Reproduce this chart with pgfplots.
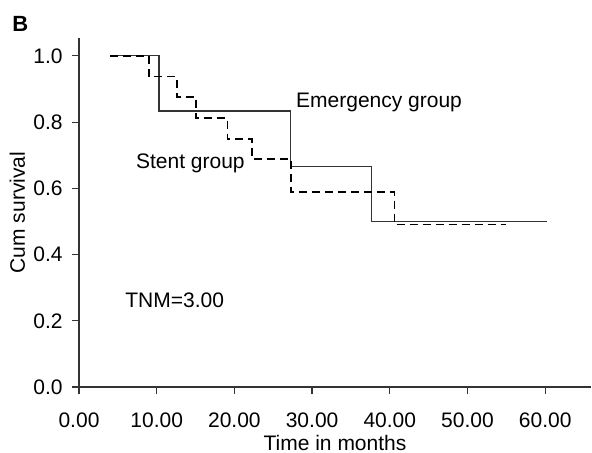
\documentclass[border=0pt]{standalone}
\usepackage{fontspec}
\setmainfont{Liberation Sans}
\usepackage{pgfplots}
\pgfplotsset{compat=1.18}
\begin{document}
\fontsize{10.5}{12.6}\selectfont
\begin{tikzpicture}
\path (0,0) rectangle (296pt,226pt);
\node[anchor=base west, inner sep=0, font=\fontsize{11}{13}\selectfont\bfseries] at (6pt,210.5pt) {B};
\begin{axis}[
  at={(39.5pt,32.5pt)}, anchor=south west,
  scale only axis, width=256pt, height=174.5pt,
  xmin=0, xmax=65.9, ymin=0, ymax=1.054,
  axis x line=bottom, axis y line=left,
  axis line style={-, line width=0.6pt, black!80},
  tick align=outside, major tick length=3.5pt,
  tick style={line width=0.6pt, black!80},
  xtick={0,10,20,30,40,50,60},
  ytick={0,0.2,0.4,0.6,0.8,1.0},
  xticklabels={0.00,10.00,20.00,30.00,40.00,50.00,60.00},
  yticklabels={0.0,0.2,0.4,0.6,0.8,1.0},
  xticklabel style={anchor=base, yshift=-16.8pt, inner sep=0},
  yticklabel style={anchor=east, xshift=-4.5pt, inner sep=0},
  xlabel={Time in months},
  ylabel={Cum survival},
  xlabel style={at={(axis description cs:0.5,0)}, anchor=base, yshift=-31.5pt, inner sep=0},
  ylabel style={at={(axis description cs:-0.1055,0.5)}, anchor=base, rotate=0, inner sep=0},
  clip=false,
]
\addplot[const plot, line width=0.6pt, black!80] coordinates {
  (4,1) (10.3,0.8333) (27.2,0.6667) (37.6,0.5) (60.2,0.5)
};
\addplot[const plot, line width=0.9pt, black, dash pattern=on 4pt off 2.5pt] coordinates {
  (4,1) (9.0,0.9375) (12.6,0.875) (15.1,0.8125) (19.1,0.75) (22.3,0.6875) (27.3,0.589) (40.6,0.491) (55.0,0.491)
};
\node[anchor=base west, inner sep=0] at (axis cs:27.9,0.844) {Emergency group};
\node[anchor=base west, inner sep=0] at (axis cs:7.3,0.659) {Stent group};
\node[anchor=base west, inner sep=0] at (axis cs:5.92,0.2396) {TNM=3.00};
\end{axis}
\end{tikzpicture}
\end{document}
